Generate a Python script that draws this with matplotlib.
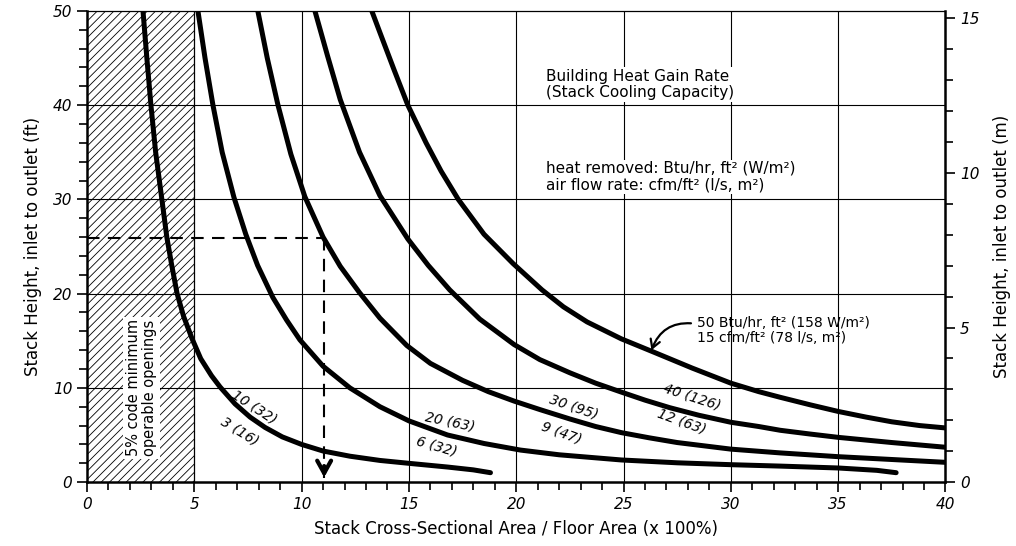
import numpy as np
import matplotlib.pyplot as plt
from matplotlib.ticker import MultipleLocator

# curves: (area %, stack height ft)
c1_x = [2.61, 2.79, 2.98, 3.2, 3.49, 3.72, 3.95, 4.2, 4.5, 4.9, 5.3, 5.8, 6.2, 6.9, 7.6, 8.3, 9.1,
        10.0, 11.0, 12.25, 13.65, 15.2, 16.8, 18.0, 18.8]
c1_y = [50, 45, 40, 35, 30, 26, 23, 20, 17.6, 15.2, 13.1, 11.3, 10.1, 8.3, 6.9, 5.8, 4.8,
        4.0, 3.3, 2.75, 2.3, 1.95, 1.6, 1.3, 1.0]

c2_x = [5.17, 5.5, 5.87, 6.3, 6.85, 7.4, 7.95, 8.66, 9.3, 9.92, 11.0, 12.25, 13.65, 15.0, 16.8, 18.5,
        20.2, 22.0, 24.9, 27.5, 30.0, 32.3, 35.0, 36.8, 37.7]
c2_y = [50, 45, 40, 35, 30.2, 26.3, 23.0, 19.6, 17.2, 15.1, 12.3, 10.0, 8.0, 6.5, 5.0, 4.1,
        3.4, 2.9, 2.35, 2.05, 1.85, 1.7, 1.5, 1.25, 1.0]

c3_x = [7.96, 8.4, 8.9, 9.5, 10.15, 11.0, 11.8, 12.7, 13.65, 14.9, 16.0, 17.5, 18.7, 19.9, 21.1,
        22.5, 23.7, 24.9, 26.2, 27.5, 30.0, 32.3, 35.0, 37.5, 40.0]
c3_y = [50, 45, 40, 34.8, 30.3, 26.0, 22.9, 20.1, 17.4, 14.5, 12.6, 10.8, 9.6, 8.6, 7.7,
        6.7, 5.9, 5.25, 4.7, 4.2, 3.5, 3.1, 2.7, 2.4, 2.1]

c4_x = [10.62, 11.2, 11.8, 12.7, 13.65, 14.95, 15.9, 16.9, 18.3, 19.9, 21.1, 22.5, 23.7, 24.9, 26.0,
        27.15, 28.5, 30.0, 31.3, 32.3, 33.7, 35.0, 37.5, 40.0]
c4_y = [50, 45.3, 40.6, 35.0, 30.4, 25.8, 23.0, 20.4, 17.3, 14.6, 13.0, 11.6, 10.5, 9.55, 8.7,
        7.9, 7.1, 6.35, 5.9, 5.5, 5.1, 4.75, 4.2, 3.7]

c5_x = [13.27, 13.65, 14.3, 14.95, 15.8, 16.5, 17.3, 18.5, 19.85, 21.2, 22.2, 23.3, 24.9, 26.4, 28.2,
        30.0, 31.3, 32.3, 33.7, 35.0, 36.3, 37.5, 38.8, 40.0]
c5_y = [50, 47.7, 43.8, 40, 36, 33, 30, 26.3, 23.2, 20.4, 18.6, 17.0, 15.2, 13.8, 12.1,
        10.5, 9.6, 9.0, 8.2, 7.5, 6.9, 6.4, 6.0, 5.75]

curves = [(c1_x, c1_y), (c2_x, c2_y), (c3_x, c3_y), (c4_x, c4_y), (c5_x, c5_y)]

# curve labels: (text, x, y, angle)
labels = [
    ("10 (32)", 7.8, 7.9, -33), ("3 (16)", 7.1, 5.4, -32),
    ("20 (63)", 16.9, 6.4, -12), ("6 (32)", 16.3, 3.8, -16),
    ("30 (95)", 22.7, 8.0, -19), ("9 (47)", 22.1, 5.2, -20),
    ("40 (126)", 28.2, 9.0, -18), ("12 (63)", 27.7, 6.4, -20),
]

example_h = 25.9
example_a = 11.05

fig = plt.figure(figsize=(10.16, 5.46), dpi=100)
ax = fig.add_axes([0.0856, 0.117, 0.845, 0.863])

ax.set_xlim(0, 40)
ax.set_ylim(0, 50)

# hatched code minimum region
plt.rcParams['hatch.linewidth'] = 0.6
ax.fill_between([0, 5], 0, 50, facecolor="white", edgecolor="black", hatch="////", linewidth=0, zorder=1)
ax.axvline(5, color="black", lw=0.9, zorder=2)

# grid
for gx in [10, 15, 20, 25, 30, 35]:
    ax.axvline(gx, color="black", lw=0.8, zorder=2)
for gy in [10, 20, 30, 40]:
    ax.axhline(gy, color="black", lw=0.8, zorder=2)

for cx, cy in curves:
    ax.plot(cx, cy, color="black", lw=3.6, solid_capstyle="round", solid_joinstyle="round", zorder=5)

# example reading
ax.plot([0, example_a], [example_h, example_h], color="black", lw=1.5, dashes=(6, 4), zorder=4)
ax.plot([example_a, example_a], [example_h, 0.4], color="black", lw=1.5, dashes=(6, 4), zorder=4)
ax.annotate("", xy=(example_a, 0.2), xytext=(example_a, 2.0),
            arrowprops=dict(arrowstyle="->,head_width=0.5,head_length=0.9", lw=3, color="black"), zorder=6)

for txt, lx, ly, ang in labels:
    ax.text(lx, ly, txt, rotation=ang, ha="center", va="center", fontsize=10,
            fontstyle="italic", zorder=6)

ax.text(2.55, 10.0, "5% code minimum\noperable openings", rotation=90, ha="center", va="center",
        fontsize=10.5, linespacing=1.1, zorder=6,
        bbox=dict(facecolor="white", edgecolor="none", pad=2))

ax.text(21.4, 42.2, "Building Heat Gain Rate\n(Stack Cooling Capacity)", ha="left", va="center",
        fontsize=11, linespacing=1.15, zorder=6,
        bbox=dict(facecolor="white", edgecolor="none", pad=1))
ax.text(21.4, 32.4, "heat removed: Btu/hr, ft² (W/m²)\nair flow rate: cfm/ft² (l/s, m²)", ha="left",
        va="center", fontsize=11, linespacing=1.15, zorder=6,
        bbox=dict(facecolor="white", edgecolor="none", pad=1))

ax.annotate("50 Btu/hr, ft² (158 W/m²)\n15 cfm/ft² (78 l/s, m²)", xy=(26.3, 14.0), xytext=(28.4, 16.1),
            ha="left", va="center", fontsize=10, linespacing=1.15, zorder=6,
            arrowprops=dict(arrowstyle="->,head_width=0.35,head_length=0.6", lw=1.6, color="black",
                            connectionstyle="arc3,rad=0.4", relpos=(0, 0.72), shrinkA=2, shrinkB=0))

# axes styling
ax.xaxis.set_major_locator(MultipleLocator(5))
ax.xaxis.set_minor_locator(MultipleLocator(1))
ax.yaxis.set_major_locator(MultipleLocator(10))
ax.yaxis.set_minor_locator(MultipleLocator(2))
ax.tick_params(which="both", direction="out", width=1.2, labelsize=11)
ax.tick_params(which="major", length=7)
ax.tick_params(which="minor", length=6)
for t in ax.get_xticklabels() + ax.get_yticklabels():
    t.set_fontstyle("italic")
for s in ["left", "bottom", "right"]:
    ax.spines[s].set_linewidth(1.8)
ax.spines["top"].set_linewidth(0.9)

ax.set_xlabel("Stack Cross-Sectional Area / Floor Area (x 100%)", fontsize=12, labelpad=6)
ax.set_ylabel("Stack Height, inlet to outlet (ft)", fontsize=12, labelpad=8)

ax2 = ax.twinx()
ax2.set_ylim(0, 50 * 0.3048)
ax2.yaxis.set_major_locator(MultipleLocator(5))
ax2.yaxis.set_minor_locator(MultipleLocator(1))
ax2.tick_params(which="both", direction="out", width=1.2, labelsize=11)
ax2.tick_params(which="major", length=7)
ax2.tick_params(which="minor", length=6)
for t in ax2.get_yticklabels():
    t.set_fontstyle("italic")
for s in ax2.spines.values():
    s.set_visible(False)
ax2.set_ylabel("Stack Height, inlet to outlet (m)", fontsize=12, labelpad=10)

fig.savefig("out.png", dpi=100)
